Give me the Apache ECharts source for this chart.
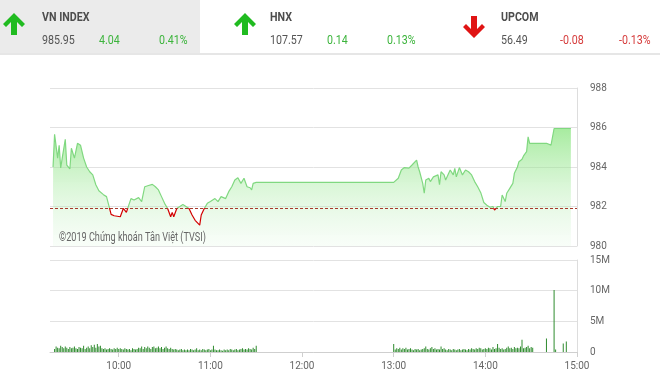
<!DOCTYPE html>
<html><head><meta charset="utf-8">
<script src="https://cdn.jsdelivr.net/npm/echarts@6/dist/echarts.min.js"></script>
<style>html,body{margin:0;padding:0;background:#fff}#c{width:660px;height:378px}</style>
</head><body><div id="c"></div>
<script>
// ---- data ----
const refPrice = 981.91;
const priceTimes = ['09:17','09:18','09:20','09:21','09:22','09:23','09:25','09:26','09:28','09:29','09:31','09:33','09:35','09:37','09:39','09:41','09:43','09:45','09:47','09:50','09:52','09:54','09:55','09:57','10:01','10:02','10:03','10:05','10:06','10:08','10:10','10:13','10:15','10:17','10:19','10:22','10:24','10:26','10:28','10:30','10:32','10:34','10:35','10:36','10:38','10:40','10:42','10:44','10:46','10:48','10:50','10:53','10:54','10:56','10:58','11:00','11:03','11:05','11:07','11:10','11:12','11:14','11:16','11:18','11:20','11:22','11:24','11:26','11:27','11:28','11:30',
'13:00','13:01','13:03','13:05','13:07','13:10','13:12','13:13','13:15','13:16','13:17','13:19','13:20','13:21','13:23','13:24','13:26','13:27','13:29','13:30','13:31','13:33','13:34','13:36','13:37','13:39','13:40','13:41','13:43','13:44','13:45','13:47','13:49','13:51','13:53','13:55','13:57','13:59','14:01','14:03','14:04','14:05','14:06','14:07','14:08','14:09','14:10','14:11','14:13','14:14','14:16','14:18','14:19','14:21','14:22','14:24','14:25','14:27','14:28','14:29','14:40','14:43','14:45','14:56'];
const priceValues = [984.00,985.66,984.45,985.10,983.95,984.45,985.40,984.10,983.90,984.95,984.45,985.20,985.10,984.45,984.00,983.76,983.60,983.10,982.80,982.60,982.50,981.90,981.60,981.53,981.48,981.43,981.90,981.70,981.80,982.40,982.33,982.45,982.25,983.00,983.05,983.12,983.00,982.84,982.50,982.16,981.90,981.48,981.70,981.48,981.90,982.00,982.10,982.00,981.90,981.57,981.30,981.06,981.57,981.90,982.16,982.25,982.40,982.25,982.50,982.40,982.75,983.00,983.34,983.46,983.17,983.43,983.00,982.95,982.84,983.17,983.22,
983.22,983.25,983.43,983.85,983.97,983.94,984.10,984.07,984.35,984.00,983.76,983.17,982.67,983.34,983.43,983.26,983.50,983.43,983.60,983.10,983.76,983.60,983.34,983.68,983.85,983.60,983.93,983.50,983.97,984.07,983.60,983.85,983.76,983.60,983.26,983.00,982.70,982.20,982.06,981.96,981.86,982.00,981.82,981.74,982.00,981.96,982.00,982.58,982.25,982.67,982.92,983.17,983.68,984.00,984.27,984.39,984.56,984.78,985.53,985.20,985.20,985.11,985.95,985.95];

// volume (millions), one bar per minute
const volAmStart = '09:18';
const volAm = [0.5,0.9,0.7,0.6,1.0,0.8,0.6,0.9,0.7,0.5,0.8,0.6,0.7,
0.9,0.6,0.5,0.8,0.7,0.6,1.0,0.5,0.7,0.9,0.6,1.1,0.8,1.2,0.7,
1.3,0.9,1.0,0.6,0.5,0.6,0.4,0.5,0.6,0.5,0.4,0.6,0.5,0.7,0.5,
0.6,0.5,0.4,0.6,0.5,0.4,0.5,0.3,0.6,0.5,0.4,0.5,0.7,0.6,0.9,
0.5,0.8,0.6,0.9,0.7,0.5,0.8,0.9,0.6,0.7,0.9,0.6,0.8,0.5,0.7,
0.9,0.6,0.5,0.7,0.5,0.4,0.5,0.4,0.3,0.4,0.5,0.3,0.4,0.3,0.4,
0.3,0.5,0.4,0.3,0.4,0.6,0.3,0.4,0.3,0.5,0.4,0.3,0.4,0.5,0.3,
0.4,1.0,0.4,0.3,0.3,0.4,0.3,0.2,0.4,0.3,0.4,0.3,0.5,0.4,0.3,
0.4,0.5,0.3,0.4,0.5,0.6,0.4,0.5,0.4,0.6,0.5,0.4,0.7,0.5,1.0];
const volPmStart = '13:00';
const volPm = [1.3,0.4,0.6,0.5,0.7,0.4,0.6,0.5,0.7,0.4,0.5,0.6,0.4,0.3,0.5,
0.4,0.5,0.3,0.4,0.5,0.6,0.9,0.5,0.4,0.6,0.8,0.5,0.6,0.4,0.5,
0.4,0.9,0.5,0.6,0.4,0.3,0.5,0.4,0.3,0.5,0.4,0.3,0.4,0.5,0.3,
0.4,0.5,0.4,0.3,0.5,0.4,0.6,0.5,0.4,0.6,0.5,0.7,0.6,0.4,0.5,
0.6,0.5,0.7,0.6,0.4,0.8,0.5,0.6,1.3,0.7,0.5,0.6,0.4,0.5,0.7,
0.9,0.6,0.7,0.5,0.8,0.6,0.7,0.6,0.9,2.0,0.6,0.7,0.8,1.0,0.6,
0.8,0.7];
const volLateTimes = ['14:40','14:45','14:46','14:51','14:53'];
const volLate = [2.2,10.1,0.4,1.4,1.7];

const xTickLabels = ['10:00','11:00','12:00','13:00','14:00','15:00'];
const priceTicks = [980, 982, 984, 986, 988];
const volTicks = [0, 5, 10, 15];

const header = [
  {name:'VN INDEX', value:'985.95', change:'4.04', pct:'0.41%', up:true},
  {name:'HNX', value:'107.57', change:'0.14', pct:'0.13%', up:true},
  {name:'UPCOM', value:'56.49', change:'-0.08', pct:'-0.13%', up:false}
];
const copyright = '©2019 Chứng khoán Tân Việt (TVSI)';

// ---- build ----
function toMin(s){const p=s.split(':');return (+p[0])*60+(+p[1]);}
const priceData = priceTimes.map((t,i)=>[toMin(t), priceValues[i]]);
const volData = [];
volAm.forEach((v,i)=>volData.push([toMin(volAmStart)+i, v]));
volPm.forEach((v,i)=>volData.push([toMin(volPmStart)+i, v]));
volLateTimes.forEach((t,i)=>volData.push([toMin(t), volLate[i]]));
const xTicks = xTickLabels.map(toMin);

const GREEN='#20bb20', RED='#e01414';
const TXT_GREEN='#3cb43c', TXT_RED='#d63c3c', TXT_GREY='#555';
const LINE_UP='#80d880', LINE_DOWN='#d20000';
function arrow(cx, ty, up, color){
  const s = up?1:-1; const by = up? ty : ty+22;
  const pts=[[0,0],[11,11],[8,14],[3,9],[3,22],[-3,22],[-3,9],[-8,14],[-11,11]]
    .map(p=>[cx+p[0], by+s*p[1]]);
  return {type:'polygon', shape:{points:pts}, style:{fill:color}};
}
function txt(x,y,text,size,color,bold,sx){
  return {type:'text', x:x, y:y, scaleX:sx||0.82, style:{text:text, fill:color, font:(bold?'bold ':'')+size+'px Roboto', textAlign:'left', textVerticalAlign:'middle'}};
}
const panelX=[42,270,501], arrowX=[14,245,474];
const graphics=[
  {type:'rect', shape:{x:0,y:0,width:200,height:53}, style:{fill:'#ebebeb'}},
  {type:'rect', shape:{x:0,y:53,width:660,height:2}, style:{fill:'#e6e6e6'}}
];
header.forEach((h,i)=>{
  const x=panelX[i];
  graphics.push(arrow(arrowX[i], h.up?13:16, h.up, h.up?GREEN:RED));
  graphics.push(txt(x,18,h.name,13,'#4d4d4d',true));
  graphics.push(txt(x,41,h.value,13,TXT_GREY,false));
  graphics.push(txt(x+(i===2?59:57),41,h.change,13,h.up?TXT_GREEN:TXT_RED,false));
  graphics.push(txt(x+(i===2?118:117),41,h.pct,13,h.up?TXT_GREEN:TXT_RED,false));
});
graphics.push({type:'text', x:59, y:238, scaleX:0.76, z:10, style:{text:copyright, fill:'#666', font:'12px Roboto', textAlign:'left', textVerticalAlign:'middle'}});

const axFont="Roboto";
const option={
  animation:false,
  graphic:graphics,
  grid:[{left:50,right:83,top:88,height:158},{left:50,right:83,top:260,height:92}],
  xAxis:[
    {type:'value',gridIndex:0,min:555,max:900,axisLine:{show:false},axisTick:{show:false},axisLabel:{show:false},splitLine:{show:false}},
    {type:'value',gridIndex:1,min:555,max:900,
     axisLine:{show:true,lineStyle:{color:'#cfcfcf'}},
     axisTick:{show:true,customValues:xTicks,length:5,lineStyle:{color:'#cfcfcf'}},
     axisLabel:{customValues:xTicks,color:'#666',fontSize:10,fontFamily:axFont,margin:9,
       formatter:v=>{const h=Math.floor(v/60),m=v%60;return (h<10?'0':'')+h+':'+(m<10?'0':'')+m;}},
     splitLine:{show:false}}
  ],
  yAxis:[
    {type:'value',gridIndex:0,position:'right',min:priceTicks[0],max:priceTicks[priceTicks.length-1],interval:2,
     axisLine:{show:true,lineStyle:{color:'#dddddd'}},axisTick:{show:false},
     axisLabel:{color:'#666',fontSize:10,fontFamily:axFont,margin:13},
     splitLine:{lineStyle:{color:'#e2e2e2'}}},
    {type:'value',gridIndex:1,position:'right',min:volTicks[0],max:volTicks[volTicks.length-1],interval:5,
     axisLine:{show:true,lineStyle:{color:'#dddddd'}},axisTick:{show:false},
     axisLabel:{color:'#666',fontSize:10,fontFamily:axFont,margin:13,formatter:v=>v===0?'0':v+'M'},
     splitLine:{lineStyle:{color:'#e2e2e2'}}}
  ],
  series:[
    {type:'line',xAxisIndex:0,yAxisIndex:0,data:priceData,symbol:'none',
     lineStyle:{width:1.2,color:LINE_UP},
     areaStyle:{origin:'start',color:{type:'linear',x:0,y:0,x2:0,y2:1,colorStops:[
       {offset:0,color:'rgba(118,224,106,0.92)'},{offset:1,color:'rgba(215,245,215,0.25)'}]}},
     markLine:{silent:true,symbol:'none',label:{show:false},
       lineStyle:{color:'#a8392c',type:[3,2],width:1},data:[{yAxis:refPrice}]}},
    {type:'bar',xAxisIndex:1,yAxisIndex:1,data:volData,barWidth:1,itemStyle:{color:'#2e8b2e'}}
  ]
};
const chart=echarts.init(document.getElementById('c'),null,{renderer:'canvas'});
chart.setOption(option);
// colour the price line red below the reference level, using the axis scale
const H = 378;
const yRef = chart.convertToPixel({yAxisIndex:0}, refPrice);
const off = Math.min(1, Math.max(0, yRef / H));
chart.setOption({series:[{lineStyle:{color:{type:'linear',x:0,y:0,x2:0,y2:H,global:true,colorStops:[
  {offset:0,color:LINE_UP},{offset:off,color:LINE_UP},{offset:off,color:LINE_DOWN},{offset:1,color:LINE_DOWN}]}}},{}]});
</script></body></html>
